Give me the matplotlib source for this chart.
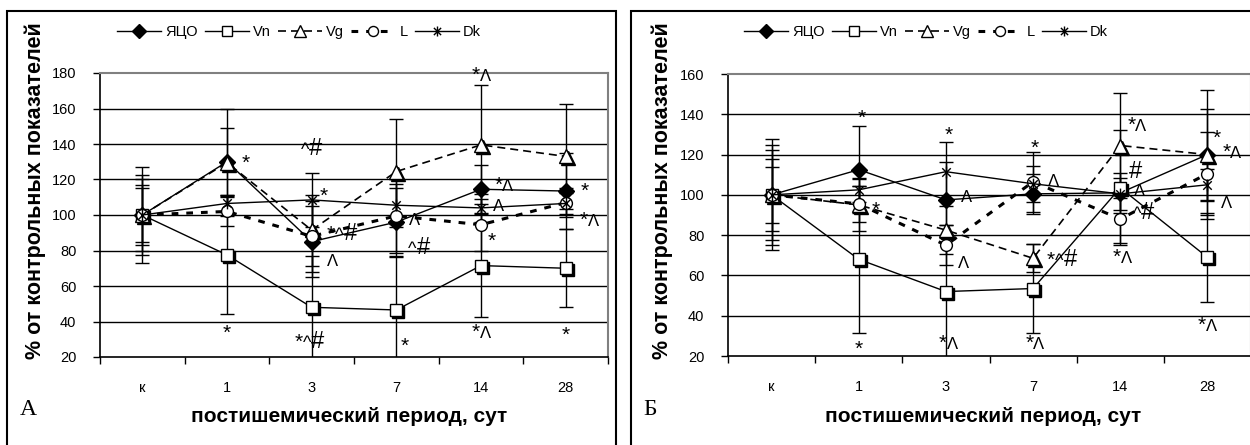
import matplotlib
matplotlib.use('Agg')
import matplotlib.pyplot as plt
from matplotlib.lines import Line2D
from matplotlib.path import Path
from matplotlib.patches import Rectangle
from matplotlib.transforms import offset_copy

plt.rcParams['font.family'] = ['Liberation Sans', 'DejaVu Sans']

# ---------------- data ----------------
categories = ['к', '1', '3', '7', '14', '28']
series_names = ['ЯЦО', 'Vn', 'Vg', 'L', 'Dk']

# Panel A
a_yco = [100, 130, 85, 96, 114.5, 113.5]
a_vn = [100, 77.5, 48, 46.5, 71.5, 70]
a_vg = [100, 129.5, 91.5, 124.5, 139.5, 133]
a_l = [100, 102, 88, 99.5, 94.5, 107]
a_dk = [100, 106.5, 108.5, 105.5, 104, 106.5]

a_yco_err = [15, 19, 20, 19, 13.5, 21.5]
a_vn_err = [27, 33, 29, 30, 29, 22]
a_vg_err = [22.5, 30, 20, 29.5, 33.5, 29.5]
a_l_err = [17, 8, 20, 21, 14.5, 8]
a_dk_err = [20, 5, 15, 12, 8, 6]

# Panel B
b_yco = [100, 112.5, 97.5, 100.5, 101, 120]
b_vn = [100, 68, 52, 53.5, 103.5, 69]
b_vg = [100, 95, 82.5, 68.5, 124.5, 120]
b_l = [100, 95.5, 75, 106.5, 88, 110.5]
b_dk = [100, 102.5, 111.5, 105.5, 100.5, 105]

b_yco_err = [14, 21.5, 19, 10, 10, 22.5]
b_vn_err = [27.5, 36.5, 33, 22, 28.5, 22]
b_vg_err = [22.5, 13, 12, 7, 26, 32]
b_l_err = [18, 9, 10, 15, 12, 20.5]
b_dk_err = [25, 6, 14.5, 9, 8, 8]

# significance marks: (x position in category units, value, text)
a_marks = [
    (1.22, 132.5, '*'), (1.0, 37, '*'),
    (1.87, 138.5, '^#'), (2.14, 114, '*'), (2.18, 90.6, '*^#'),
    (2.24, 74.6, 'Λ'), (1.8, 29.6, '*^#'),
    (3.22, 98, 'Λ'), (3.14, 82.5, '^#'), (3.1, 29.6, '*'),
    (4.0, 179, '*Λ'), (4.27, 117, '*Λ'), (4.21, 105.6, 'Λ'),
    (4.13, 88.7, '*'), (4.0, 34, '*Λ'),
    (5.22, 117, '*'), (5.28, 97, '*Λ'), (5.0, 36, '*'),
]
b_marks = [
    (1.03, 141, '*'), (1.2, 95.3, '*'), (1.0, 26.5, '*'),
    (2.03, 132.7, '*'), (2.24, 99.5, 'Λ'), (2.2, 66.8, 'Λ'), (2.03, 26.5, '*Λ'),
    (3.02, 126.4, '*'), (3.23, 107.4, 'Λ'), (3.16, 68.7, '*^#'), (3.02, 26.5, '*Λ'),
    (4.19, 134.7, '*Λ'), (4.1, 112.7, '#'), (4.22, 102.4, 'Λ'),
    (4.14, 92, '^#'), (4.02, 69, '*Λ'),
    (5.11, 131, '*'), (5.28, 121.5, '*Λ'), (5.22, 96.7, 'Λ'), (5.0, 35.5, '*Λ'),
]

a_yticks = [20, 40, 60, 80, 100, 120, 140, 160, 180]
b_yticks = [20, 40, 60, 80, 100, 120, 140, 160]

ylabel = '% от контрольных показателей'
xlabel = 'постишемический период, сут'

# ---------------- styles ----------------
star_path = Path([(0, -1), (0, 1), (-0.72, -0.72), (0.72, 0.72), (-0.72, 0.72), (0.72, -0.72)],
                 [Path.MOVETO, Path.LINETO] * 3)

styles = {
    'ЯЦО': dict(ls='-', lw=1.0, marker='D', ms=8, mfc='black', mec='black', shadow=False),
    'Vn': dict(ls='-', lw=1.0, marker='s', ms=8.5, mfc='white', mec='black', shadow=True),
    'Vg': dict(ls=(0, (4.8, 3.0)), lw=1.2, marker='^', ms=10.5, mfc='white', mec='black', shadow=True),
    'L': dict(ls=(0, (2.2, 2.6)), lw=2.2, marker='o', ms=8.5, mfc='white', mec='black', shadow=False),
    'Dk': dict(ls='-', lw=1.0, marker=star_path, ms=8.5, mfc='none', mec='black', shadow=False),
}
mark_sizes = {'*': 15, 'Λ': 12, '^': 13, '#': 17}

W, H = 1250, 445
DPI = 100
fig = plt.figure(figsize=(W / DPI, H / DPI), dpi=DPI)
renderer = fig.canvas.get_renderer()


def rect(l, t, r, b):
    return [l / W, 1 - b / H, (r - l) / W, (b - t) / H]


def draw_mark(ax, xv, yv, s):
    if 'Λ' in s:
        base = -0.36 * mark_sizes['Λ']
    elif '#' in s:
        base = -0.35 * mark_sizes['#']
    else:
        base = -0.57 * mark_sizes['*']
    texts = []
    for ch in s:
        t = ax.annotate(ch, xy=(xv, yv), xycoords='data', textcoords='offset points',
                        xytext=(0, base), fontsize=mark_sizes[ch], ha='left',
                        va='baseline', zorder=20)
        texts.append(t)
    widths = [t.get_window_extent(renderer).width * 72 / DPI for t in texts]
    off = 0 if '#' in s else -sum(widths) / 2
    for t, w in zip(texts, widths):
        t.xyann = (off, base)
        off += w


def draw_panel(ax, means, errs, marks, yticks):
    x = list(range(len(categories)))
    for k, name in enumerate(series_names):
        ax.errorbar(x, means[k], yerr=errs[k], fmt='none', ecolor='black',
                    elinewidth=1.0, capsize=5, capthick=1.0, zorder=3, clip_on=True)
    for k, name in enumerate(series_names):
        st = styles[name]
        z = 4 + k
        ax.plot(x, means[k], ls=st['ls'], lw=st['lw'], color='black', zorder=z)
        if st['shadow']:
            tr = offset_copy(ax.transData, fig=fig, x=2, y=-2, units='dots')
            ax.plot(x, means[k], ls='none', marker=st['marker'], ms=st['ms'],
                    mfc='black', mec='black', transform=tr, zorder=z + 0.1)
        ax.plot(x, means[k], ls='none', marker=st['marker'], ms=st['ms'],
                mfc=st['mfc'], mec=st['mec'], mew=1.0, zorder=z + 0.2)

    ax.set_xlim(-0.5, len(categories) - 0.5)
    ax.set_ylim(yticks[0], yticks[-1])
    for xv, yv, s in marks:
        draw_mark(ax, xv, yv, s)

    ax.set_yticks(yticks)
    for v in yticks[1:-1]:
        ax.axhline(v, color='black', lw=1.0, zorder=1)
    ax.set_xticks(x)
    ax.set_xticklabels(categories)
    ax.set_xticks([i - 0.5 for i in range(len(categories) + 1)], minor=True)
    ax.tick_params(axis='x', which='major', length=0, pad=17, labelsize=10.5)
    ax.tick_params(axis='x', which='minor', length=5, width=1.0, direction='out')
    ax.tick_params(axis='y', length=5, width=1.0, direction='out', pad=12, labelsize=10.5)
    ax.spines['top'].set_color('#808080')
    ax.spines['right'].set_color('#808080')
    ax.spines['top'].set_linewidth(1.5)
    ax.spines['right'].set_linewidth(1.5)
    ax.spines['left'].set_linewidth(1.2)
    ax.spines['bottom'].set_linewidth(1.2)


axA = fig.add_axes(rect(100, 73, 608, 357))
axB = fig.add_axes(rect(728, 74, 1251, 356))

draw_panel(axA, [a_yco, a_vn, a_vg, a_l, a_dk],
           [a_yco_err, a_vn_err, a_vg_err, a_l_err, a_dk_err], a_marks, a_yticks)
draw_panel(axB, [b_yco, b_vn, b_vg, b_l, b_dk],
           [b_yco_err, b_vn_err, b_vg_err, b_l_err, b_dk_err], b_marks, b_yticks)

# legends
handles = []
for name in series_names:
    st = styles[name]
    handles.append(Line2D([], [], ls=st['ls'], lw=st['lw'], color='black',
                          marker=st['marker'], ms=st['ms'] * 0.85, mfc=st['mfc'],
                          mec=st['mec'], mew=1.0))
for cx in (299, 926):
    fig.legend(handles, series_names, loc='center', bbox_to_anchor=(cx / W, 1 - 32 / H),
               ncol=5, frameon=False, fontsize=10.5, handlelength=3.0,
               handletextpad=0.3, columnspacing=0.5)

# axis labels
for cx, cy in ((35, 191), (662, 191)):
    fig.text(cx / W, 1 - cy / H, ylabel, rotation=90, ha='center', va='center',
             fontsize=15.5, fontweight='bold')
for cx in (349, 983):
    fig.text(cx / W, 1 - 417 / H, xlabel, ha='center', va='center',
             fontsize=15, fontweight='bold')

# panel letters
fig.text(20 / W, 1 - 415 / H, 'А', family=['Liberation Serif', 'DejaVu Serif'],
         fontsize=17, ha='left', va='baseline')
fig.text(643 / W, 1 - 415 / H, 'Б', family=['Liberation Serif', 'DejaVu Serif'],
         fontsize=17, ha='left', va='baseline')

# outer frames
fig.patches.append(Rectangle((7 / W, -0.05), (616 - 7) / W, 1 - 11 / H + 0.05,
                             transform=fig.transFigure, fill=False, lw=1.5,
                             edgecolor='black'))
fig.patches.append(Rectangle((631 / W, -0.05), 0.6, 1 - 11 / H + 0.05,
                             transform=fig.transFigure, fill=False, lw=1.5,
                             edgecolor='black'))

fig.savefig('out.png', dpi=DPI)
